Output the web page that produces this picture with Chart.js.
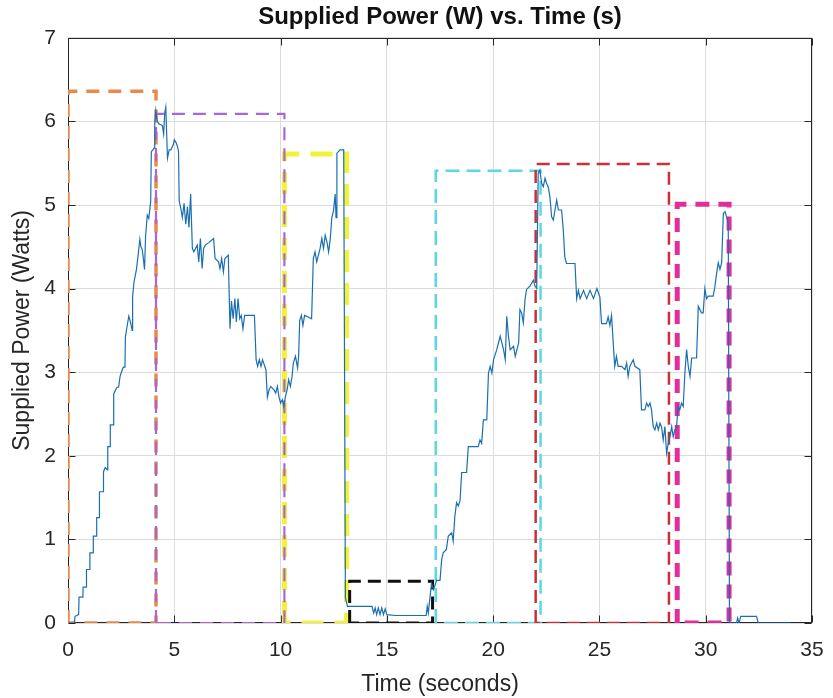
<!DOCTYPE html>
<html>
<head>
<meta charset="utf-8">
<title>Supplied Power (W) vs. Time (s)</title>
<script src="https://cdn.jsdelivr.net/npm/chart.js@4.4.1/dist/chart.umd.min.js"></script>
<style>
	html, body { margin: 0; padding: 0; background: #fff; }
	#wrap { width: 833px; height: 698px; }
</style>
</head>
<body>
<div id="wrap"><canvas id="powerChart" width="833" height="698"></canvas></div>
<script>
// tick values of both axes
const xTicks = [0, 5, 10, 15, 20, 25, 30, 35];
const yTicks = [0, 1, 2, 3, 4, 5, 6, 7];

const timeS = [
	0, 0.3, 0.33, 0.5, 0.52, 0.7, 0.71, 0.86, 0.87, 1.02,
	1.03, 1.18, 1.19, 1.34, 1.35, 1.47, 1.48, 1.66, 1.67, 1.75,
	1.86, 1.87, 1.98, 1.99, 2.14, 2.15, 2.3, 2.38, 2.45, 2.54,
	2.6, 2.68, 2.7, 2.78, 2.86, 2.94, 3.02, 3.04, 3.1, 3.22,
	3.3, 3.38, 3.43, 3.49, 3.55, 3.6, 3.65, 3.73, 3.8, 3.89,
	3.92, 4.0, 4.05, 4.08, 4.13, 4.2, 4.29, 4.44, 4.5, 4.55,
	4.6, 4.68, 4.76, 4.84, 4.95, 5.0, 5.08, 5.15, 5.2, 5.23,
	5.3, 5.38, 5.46, 5.54, 5.62, 5.69, 5.77, 5.85, 5.92, 6.08,
	6.15, 6.23, 6.31, 6.38, 6.46, 6.62, 6.85, 6.92, 7.08, 7.15,
	7.23, 7.31, 7.38, 7.54, 7.62, 7.69, 7.77, 7.85, 7.92, 8.0,
	8.08, 8.15, 8.23, 8.31, 8.77, 8.85, 8.92, 9.0, 9.08, 9.15,
	9.31, 9.38, 9.46, 9.54, 9.69, 9.77, 9.85, 9.92, 10.0, 10.08,
	10.15, 10.23, 10.31, 10.38, 10.46, 10.54, 10.6, 10.7, 10.8, 10.85,
	10.9, 10.98, 11.05, 11.13, 11.3, 11.46, 11.54, 11.62, 11.7, 11.78,
	11.86, 11.94, 12.02, 12.1, 12.18, 12.26, 12.34, 12.41, 12.49, 12.57,
	12.61, 12.65, 12.8, 12.97, 13.05, 13.15, 14.3, 14.38, 14.45, 14.52,
	14.6, 14.68, 14.76, 14.84, 14.92, 15.0, 15.4, 16.85, 16.9, 16.95,
	17.03, 17.1, 17.2, 17.34, 17.5, 17.58, 17.65, 17.8, 17.89, 18.05,
	18.12, 18.2, 18.28, 18.36, 18.44, 18.52, 18.75, 18.83, 19.3, 19.38,
	19.46, 19.54, 19.7, 19.78, 19.86, 19.94, 20.02, 20.17, 20.33, 20.41,
	20.49, 20.57, 20.64, 20.72, 20.8, 20.96, 21.04, 21.2, 21.26, 21.34,
	21.42, 21.5, 21.57, 21.73, 21.89, 21.97, 22.05, 22.12, 22.2, 22.28,
	22.36, 22.44, 22.51, 22.59, 22.67, 22.75, 22.83, 22.91, 22.99, 23.07,
	23.22, 23.3, 23.37, 23.45, 23.85, 23.93, 24.01, 24.09, 24.25, 24.4,
	24.56, 24.72, 24.88, 25.02, 25.1, 25.33, 25.41, 25.49, 25.57, 25.65,
	25.72, 25.8, 25.88, 26.04, 26.2, 26.28, 26.35, 26.43, 26.59, 26.67,
	26.9, 26.98, 27.14, 27.22, 27.3, 27.38, 27.45, 27.53, 27.61, 27.69,
	27.77, 27.85, 27.92, 28.0, 28.08, 28.16, 28.24, 28.32, 28.4, 28.47,
	28.55, 28.63, 28.7, 28.78, 28.86, 28.94, 29.02, 29.1, 29.18, 29.26,
	29.34, 29.57, 29.65, 29.8, 29.88, 29.96, 30.04, 30.12, 30.35, 30.43,
	30.51, 30.59, 30.67, 30.75, 30.83, 30.91, 30.98, 31.06, 31.12, 31.45,
	31.5, 31.57, 31.65, 32.39, 32.47, 34.0
];
const powerW = [
	0, 0, 0.08, 0.1, 0.31, 0.31, 0.43, 0.43, 0.64, 0.64,
	0.84, 0.84, 1.04, 1.04, 1.26, 1.26, 1.57, 1.57, 1.81, 1.86,
	1.83, 2.11, 2.11, 2.37, 2.37, 2.74, 2.82, 2.82, 2.95, 3.02,
	3.06, 3.06, 3.42, 3.55, 3.67, 3.6, 3.5, 3.9, 4.07, 4.23,
	4.4, 4.59, 4.5, 4.47, 4.35, 4.23, 4.63, 4.88, 4.84, 5.04,
	5.64, 5.66, 5.68, 5.97, 6.13, 6.0, 5.97, 5.95, 5.85, 6.1,
	6.17, 5.56, 5.66, 5.66, 5.72, 5.78, 5.75, 5.7, 5.64, 5.05,
	4.97, 4.85, 5.02, 4.77, 4.98, 4.73, 5.13, 4.48, 4.44, 4.52,
	4.32, 4.6, 4.24, 4.48, 4.52, 4.55, 4.6, 4.36, 4.32, 4.24,
	4.36, 4.2, 4.36, 4.4, 3.52, 3.85, 3.64, 3.88, 3.6, 3.88,
	3.64, 3.68, 3.52, 3.68, 3.68, 3.15, 3.07, 3.15, 3.07, 3.15,
	3.03, 2.7, 2.79, 2.83, 2.79, 2.75, 2.83, 2.71, 2.63, 2.67,
	2.59, 2.71, 2.79, 2.91, 2.83, 2.95, 3.11, 3.19, 3.05, 3.2,
	3.62, 3.68, 3.56, 3.68, 3.66, 3.64, 4.36, 4.44, 4.32, 4.4,
	4.48, 4.6, 4.48, 4.64, 4.56, 4.44, 4.6, 4.85, 4.93, 5.13,
	4.85, 5.62, 5.66, 5.66, 0.3, 0.2, 0.2, 0.12, 0.18, 0.1,
	0.18, 0.1, 0.18, 0.1, 0.17, 0.1, 0.09, 0.09, 0.2, 0.12,
	0.31, 0.47, 0.4, 0.51, 0.51, 0.76, 0.84, 0.88, 1.04, 1.08,
	0.98, 1.28, 1.44, 1.4, 1.46, 1.8, 1.8, 2.11, 2.11, 2.19,
	2.15, 2.43, 2.43, 2.99, 3.07, 2.99, 3.15, 3.27, 3.43, 3.35,
	3.27, 3.15, 3.67, 3.43, 3.27, 3.31, 3.19, 3.35, 3.75, 3.71,
	3.59, 3.87, 3.99, 4.03, 4.1, 4.03, 4.0, 5.38, 5.42, 5.26,
	5.22, 5.32, 5.26, 5.22, 5.1, 4.86, 4.82, 4.94, 5.06, 4.94,
	4.94, 4.7, 4.38, 4.3, 4.3, 3.88, 3.98, 3.88, 3.98, 3.88,
	3.98, 3.88, 4.0, 3.9, 3.58, 3.58, 3.66, 3.56, 3.68, 3.35,
	3.07, 3.19, 3.07, 3.07, 3.03, 3.11, 2.95, 3.07, 3.15, 3.07,
	3.03, 2.55, 2.55, 2.63, 2.59, 2.63, 2.55, 2.35, 2.31, 2.39,
	2.31, 2.39, 2.35, 2.19, 2.35, 2.03, 2.15, 2.23, 2.35, 2.23,
	2.31, 2.35, 2.59, 2.55, 2.63, 2.59, 2.99, 3.27, 3.07, 2.95,
	3.17, 3.17, 3.79, 3.71, 3.71, 4.0, 3.88, 3.91, 3.91, 4.02,
	4.18, 4.31, 4.23, 4.31, 4.9, 4.92, 4.86, 4.78, 0, 0,
	0.06, 0, 0.08, 0.08, 0, 0
];

// dashed windows drawn over the trace (start, end, height)
const boxStart = [0, 4.14, 10.18, 13.25, 17.3, 22.0, 28.66];
const boxEnd = [4.14, 10.18, 13.1, 17.15, 22.23, 28.27, 31.1];
const boxTop = [6.36, 6.09, 5.61, 0.5, 5.41, 5.49, 5.01];

// looks of the windows
const boxColors = ['#e88a4a', '#a867d6', '#f2f23a', '#111111', '#5cd8e2', '#c8303a', '#e22d9c'];
const boxWidths = [3.5, 2.2, 5, 3, 2.5, 2.5, 5];
const boxDashes = [[13, 9], [13, 8], [22, 11], [13, 7], [14, 7], [13, 7], [14, 9]];
const boxOrder = [7, 5, 6, 4, 3, 2, 1];

const FONT = "'Liberation Sans', Arial, Helvetica, sans-serif";

// MATLAB style box with inward ticks
const axesBox = {
	id: 'axesBox',
	beforeDatasetsDraw(chart) {
		const { ctx, chartArea: a, scales } = chart;
		const l = Math.round(a.left) + 0.5;
		const r = Math.round(a.right) - 0.5;
		const t = Math.round(a.top) + 0.5;
		const b = Math.round(a.bottom) - 0.5;
		const len = 7;
		ctx.save();
		ctx.strokeStyle = '#262626';
		ctx.lineWidth = 1;
		ctx.strokeRect(l, t, r - l, b - t);
		ctx.beginPath();
		xTicks.forEach(v => {
			const px = Math.round(scales.x.getPixelForValue(v)) + 0.5;
			ctx.moveTo(px, b); ctx.lineTo(px, b - len);
			ctx.moveTo(px, t); ctx.lineTo(px, t + len);
		});
		yTicks.forEach(v => {
			const py = Math.round(scales.y.getPixelForValue(v)) + 0.5;
			ctx.moveTo(l, py); ctx.lineTo(l + len, py);
			ctx.moveTo(r, py); ctx.lineTo(r - len, py);
		});
		ctx.stroke();
		ctx.restore();
	}
};

function buildBoxes() {
	return boxStart.map((s, i) => ({
		data: [
			{ x: s, y: 0 }, { x: s, y: boxTop[i] },
			{ x: boxEnd[i], y: boxTop[i] }, { x: boxEnd[i], y: 0 },
			{ x: s, y: 0 }
		],
		borderColor: boxColors[i],
		borderWidth: boxWidths[i],
		borderDash: boxDashes[i],
		pointRadius: 0,
		tension: 0,
		fill: false,
		order: boxOrder[i]
	}));
}

window.onload = () => {
	const ctx = document.getElementById('powerChart');
	new Chart(ctx, {
		type: 'line',
		data: {
			datasets: [{
				data: timeS.map((t, i) => ({ x: t, y: powerW[i] })),
				borderColor: '#1a6fb0',
				borderWidth: 1.2,
				pointRadius: 0,
				tension: 0,
				fill: false,
				order: 0
			}, ...buildBoxes()]
		},
		options: {
			responsive: false,
			animation: false,
			devicePixelRatio: 1,
			layout: { padding: { left: 0, right: 21, top: 0, bottom: 0 } },
			plugins: {
				legend: { display: false },
				tooltip: { enabled: false },
				title: {
					display: true,
					text: 'Supplied Power (W) vs. Time (s)',
					fullSize: false,
					color: '#111111',
					font: { family: FONT, size: 24, weight: 'bold' },
					padding: { top: 3, bottom: 6 }
				}
			},
			scales: {
				x: {
					type: 'linear',
					min: 0,
					max: 35,
					afterBuildTicks: s => { s.ticks = xTicks.map(v => ({ value: v })); },
					// keep the plot edges where the reference has them
					afterFit: s => { s.height = 75; s.paddingLeft = 0; s.paddingRight = 0; },
					ticks: { color: '#262626', font: { family: FONT, size: 21 }, padding: 15, maxRotation: 0 },
					grid: { color: '#dcdcdc', drawTicks: false },
					border: { display: false },
					title: {
						display: true,
						text: 'Time (seconds)',
						color: '#262626',
						font: { family: FONT, size: 23 },
						padding: { top: 0, bottom: 0 }
					}
				},
				y: {
					type: 'linear',
					min: 0,
					max: 7,
					afterBuildTicks: s => { s.ticks = yTicks.map(v => ({ value: v })); },
					afterFit: s => { s.width = 68; },
					ticks: { color: '#262626', font: { family: FONT, size: 21 }, padding: 12 },
					grid: { color: '#dcdcdc', drawTicks: false },
					border: { display: false },
					title: {
						display: true,
						text: 'Supplied Power (Watts)',
						color: '#262626',
						font: { family: FONT, size: 23 },
						padding: { top: 9, bottom: 0 }
					}
				}
			}
		},
		plugins: [axesBox]
	});
};
</script>
</body>
</html>
